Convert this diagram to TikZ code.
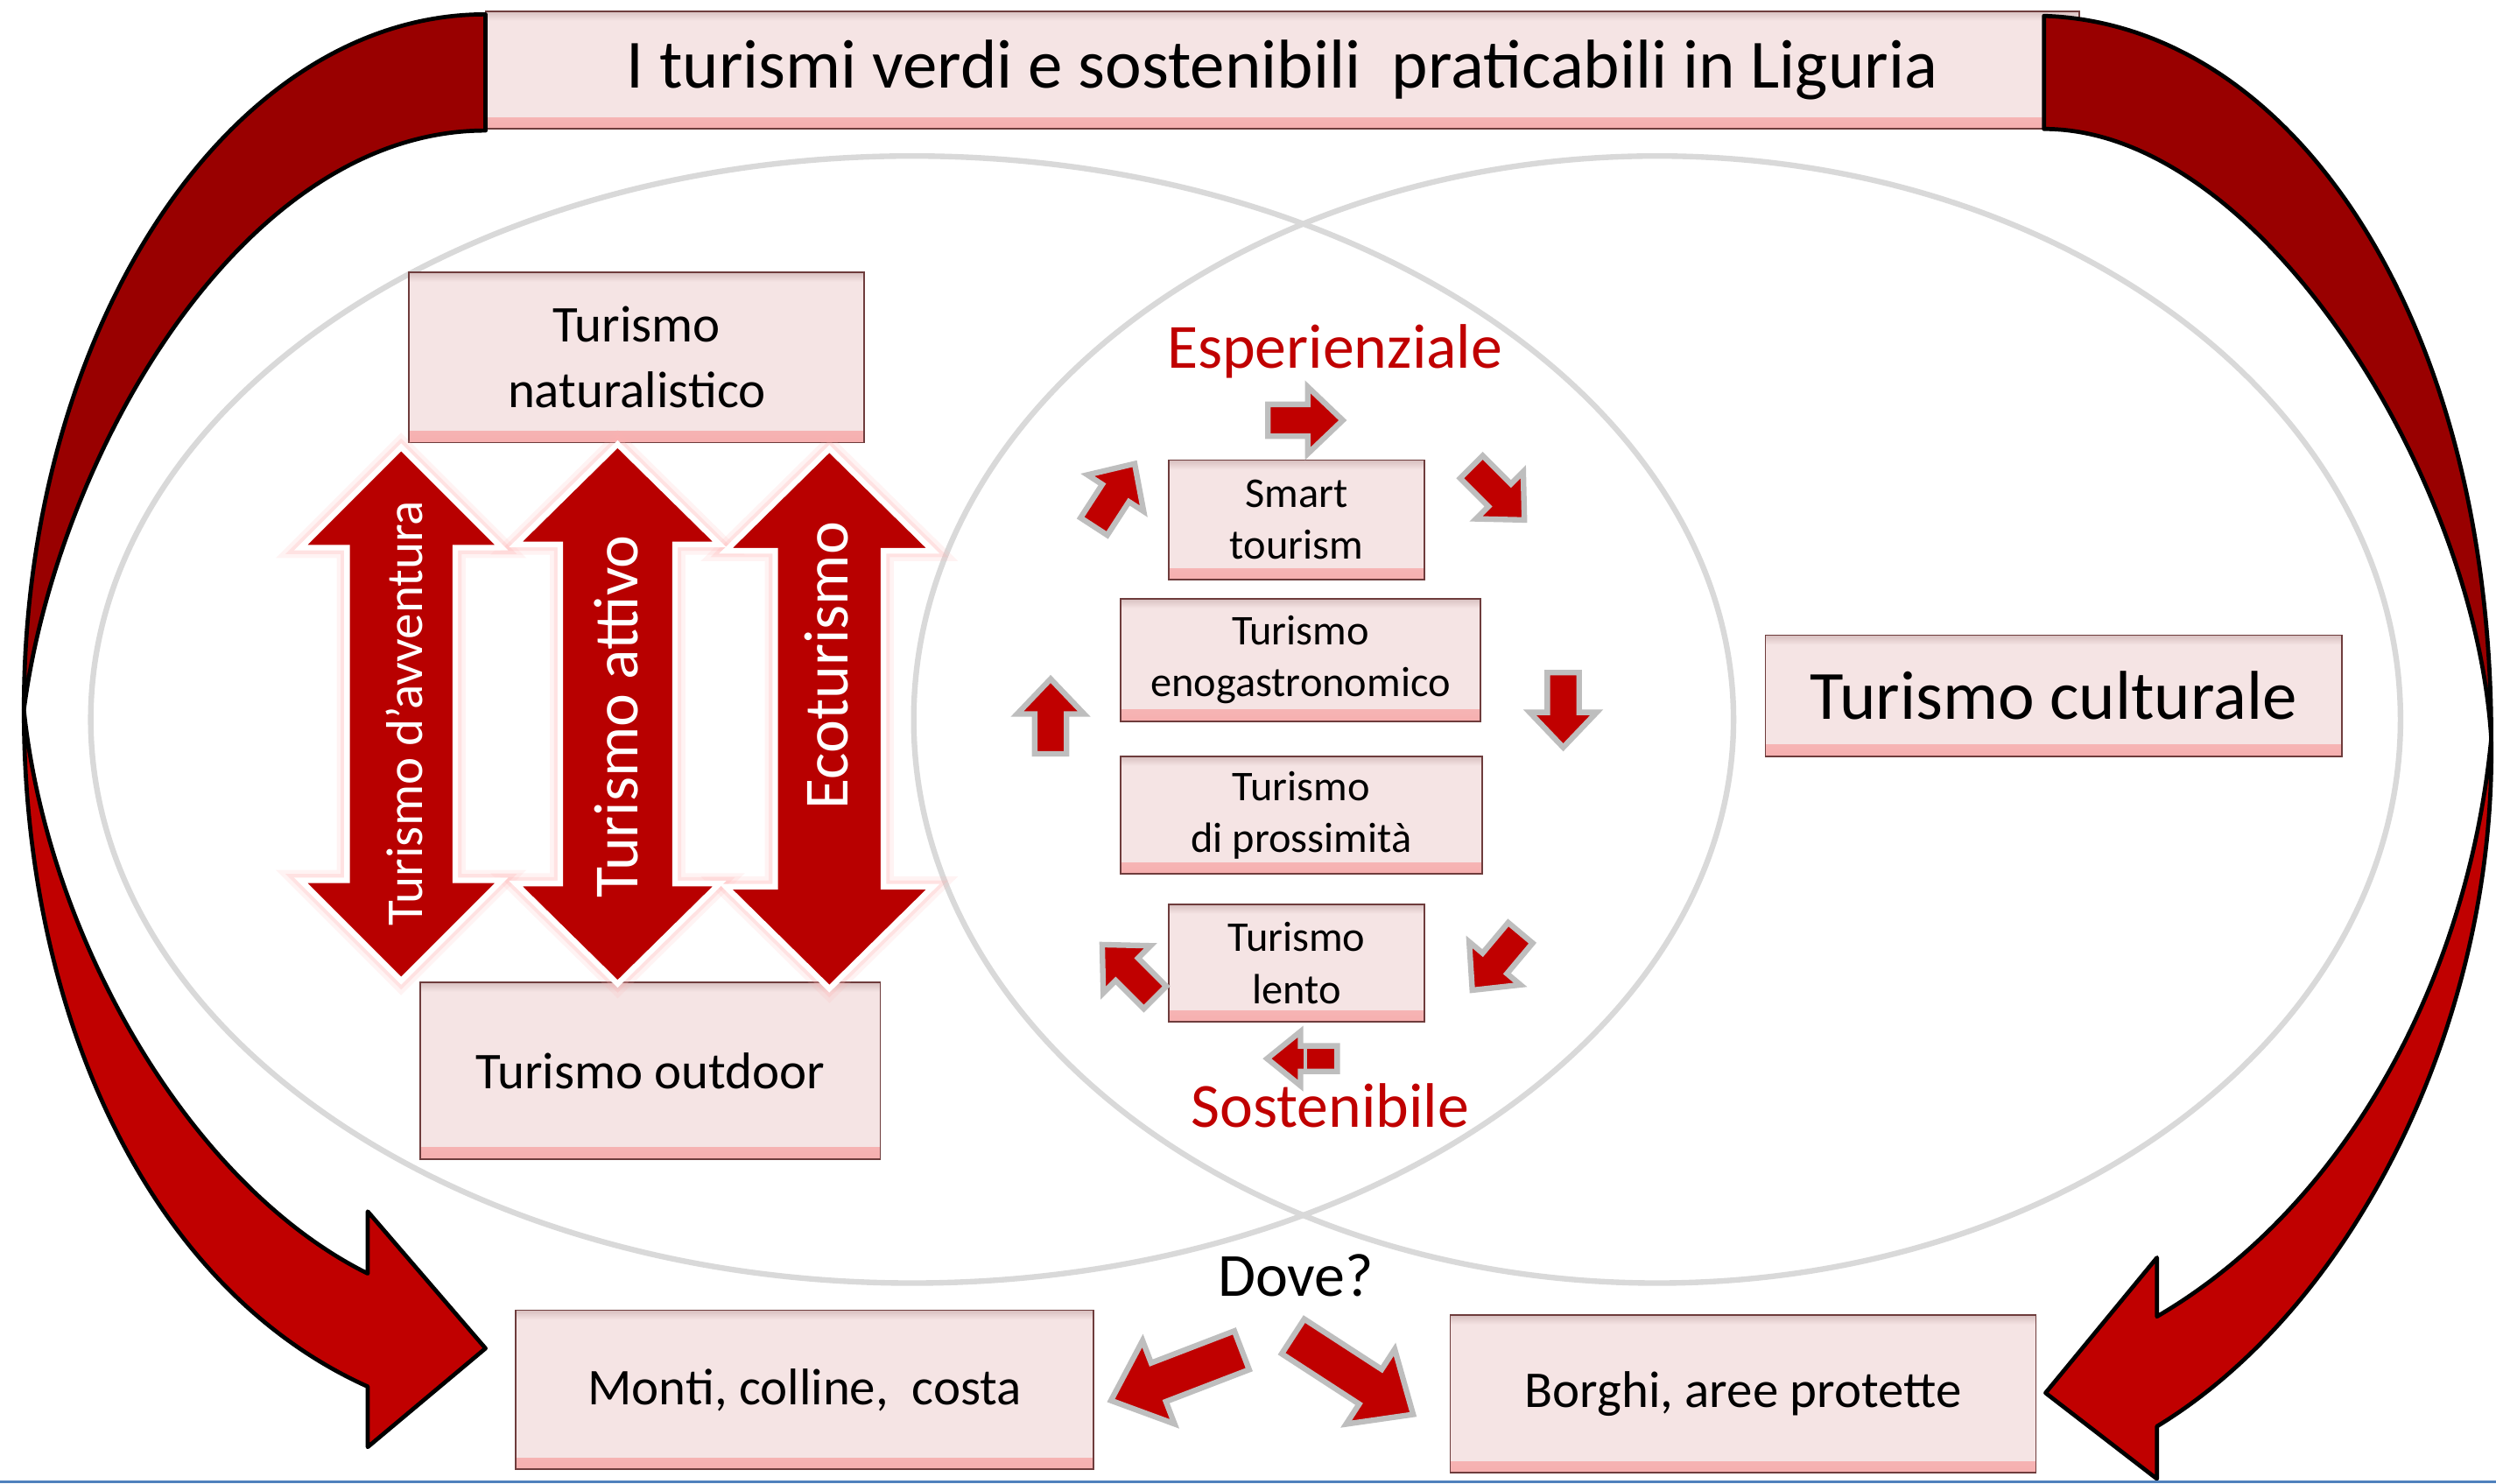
\documentclass[tikz,border=0pt]{standalone}
\usepackage{fontspec}
\setmainfont{Carlito}
\usetikzlibrary{calc}
\definecolor{boxfill}{RGB}{245,228,228}
\definecolor{boxline}{RGB}{110,60,60}
\definecolor{bevel}{RGB}{246,175,175}
\definecolor{darkred}{RGB}{153,0,0}
\definecolor{brightred}{RGB}{192,0,0}
\definecolor{arrred}{RGB}{184,0,0}
\definecolor{ringgray}{RGB}{217,217,217}
\definecolor{smallgray}{RGB}{190,190,190}
\definecolor{textred}{RGB}{192,0,0}
\definecolor{slideblue}{RGB}{79,129,189}
% style, x, y, angle, length, headlen, headhalf, shafthalf
\newcommand{\blockarrow}[8]{%
  \path[#1,shift={(#2,#3)},rotate=#4] ({-#5/2},{-#8}) -- ({#5/2-#6},{-#8}) -- ({#5/2-#6},{-#7}) -- ({#5/2},0) -- ({#5/2-#6},{#7}) -- ({#5/2-#6},{#8}) -- ({-#5/2},{#8}) -- cycle;}
% style, cx, ytop, ybot, headlen, headhalf, shafthalf
\newcommand{\dblarrow}[7]{%
  \path[#1] (#2,#3) -- ({#2+#6},{#3+#5}) -- ({#2+#7},{#3+#5}) -- ({#2+#7},{#4-#5}) -- ({#2+#6},{#4-#5}) -- (#2,#4) -- ({#2-#6},{#4-#5}) -- ({#2-#7},{#4-#5}) -- ({#2-#7},{#3+#5}) -- ({#2-#6},{#3+#5}) -- cycle;}
\tikzset{
  pinkbox/.style={draw=boxline, line width=1pt, fill=boxfill, inner sep=0pt, align=center,
    path picture={
      \shade[top color=boxfill, bottom color=bevel] ([yshift=7pt]path picture bounding box.south west) rectangle (path picture bounding box.south east);
      \shade[top color=boxfill!78!boxline, bottom color=boxfill] (path picture bounding box.north west) rectangle ([yshift=-6pt]path picture bounding box.north east);
    }},
  bigtxt/.style={font=\fontsize{43.4}{52}\selectfont},
  midtxt/.style={font=\fontsize{32.4}{41}\selectfont},
  smalltxt/.style={font=\fontsize{26.6}{32.5}\selectfont},
  ring/.style={draw=ringgray, line width=3.5pt},
  band/.style={draw=black, line width=2.6pt, line join=round},
  bigglowa/.style={draw=red!30, line width=13pt, opacity=0.15, line join=miter},
  bigglowb/.style={draw=red!30, line width=8pt, opacity=0.25, line join=miter},
  bigarr/.style={fill=arrred, draw=white, line width=3.5pt, line join=miter},
  smallarr/.style={fill=brightred, draw=smallgray, line width=3.5pt, line join=miter},
  redlabel/.style={text=textred, font=\fontsize{39.5}{46}\selectfont, anchor=base, inner sep=0pt},
  vtext/.style={text=white, rotate=90, inner sep=0pt},
}
\begin{document}
\begin{tikzpicture}[x=1pt,y=-1pt]
\useasboundingbox (0,0) rectangle (1568,932);
\fill[white] (0,0) rectangle (1568,932);

% rings
\draw[ring] (573,452) ellipse [x radius=516, y radius=354];
\draw[ring] (1041,452) ellipse [x radius=467, y radius=354];

% boxes
\node[pinkbox, bigtxt, minimum width=1001pt, minimum height=74pt] (title) at (805.5,44) {I turismi verdi e sostenibili\ \ praticabili in Liguria};
\node[pinkbox, midtxt, minimum width=286pt, minimum height=107pt] (natur) at (400,224.5) {Turismo\\naturalistico};
\node[pinkbox, midtxt, minimum width=289pt, minimum height=111pt] (outdoor) at (408.5,672.5) {Turismo outdoor};
\node[pinkbox, midtxt, minimum width=363pt, minimum height=100pt] (monti) at (505.5,873) {Monti, colline,\ \ costa};
\node[pinkbox, midtxt, minimum width=368pt, minimum height=99pt] (borghi) at (1095,875.5) {Borghi, aree protette};
\node[pinkbox, bigtxt, minimum width=362pt, minimum height=76pt] (cult) at (1290,437) {Turismo culturale};
\node[pinkbox, smalltxt, minimum width=161pt, minimum height=75pt] (smart) at (814.5,326.5) {Smart\\tourism};
\node[pinkbox, smalltxt, minimum width=226pt, minimum height=77pt] (eno) at (817,414.5) {Turismo\\enogastronomico};
\node[pinkbox, smalltxt, minimum width=227pt, minimum height=74pt] (pross) at (817.5,512) {Turismo\\di prossimità};
\node[pinkbox, smalltxt, minimum width=161pt, minimum height=74pt] (lento) at (814.5,605) {Turismo\\lento};

% vertical double arrows
\dblarrow{bigglowa}{252}{281}{616}{63}{63}{34}
\dblarrow{bigglowa}{388}{279}{618}{63}{64}{36}
\dblarrow{bigglowa}{521}{282}{621}{64}{65}{34}
\dblarrow{bigglowb}{252}{281}{616}{63}{63}{34}
\dblarrow{bigglowb}{388}{279}{618}{63}{64}{36}
\dblarrow{bigglowb}{521}{282}{621}{64}{65}{34}
\dblarrow{bigarr}{252}{281}{616}{63}{63}{34}
\dblarrow{bigarr}{388}{279}{618}{63}{64}{36}
\dblarrow{bigarr}{521}{282}{621}{64}{65}{34}
\node[vtext, font=\fontsize{32.5}{38}\selectfont] (avv) at (254,448) {Turismo d’avventura};
\node[vtext, font=\fontsize{39.5}{46}\selectfont] (att) at (387,450) {Turismo attivo};
\node[vtext, font=\fontsize{39.5}{46}\selectfont] (eco) at (519,418) {Ecoturismo};

% small cycle arrows
\blockarrow{smallarr}{820}{264}{0}{47}{22}{21}{10}
\blockarrow{smallarr}{941}{310}{-45}{47}{22}{21}{10}
\blockarrow{smallarr}{982}{446}{-90}{47}{22}{21}{10}
\blockarrow{smallarr}{940}{604}{-130}{47}{22}{21}{10}
\blockarrow{smallarr}{818}{665}{180}{44}{21}{17}{8}
\draw[smallgray, line width=2pt] (820,657) -- (820,673);
\blockarrow{smallarr}{709}{610}{135}{47}{22}{21}{10}
\blockarrow{smallarr}{660}{450}{90}{47}{22}{21}{10}
\blockarrow{smallarr}{700}{311}{57}{47}{22}{21}{10}

% labels
\node[redlabel] (esp) at (838.5,231) {Esperienziale};
\node[redlabel] (sost) at (835.5,708) {Sostenibile};
\node[font=\fontsize{38.5}{46}\selectfont, anchor=base, inner sep=0pt] (dove) at (814,814) {Dove?};

% Dove arrows
\blockarrow{smallarr}{739}{864}{201}{88}{32}{28}{13}
\blockarrow{smallarr}{850}{864}{-33}{90}{32}{28}{13}

% big curved arrows
\path[band, fill=darkred] (305,9) .. controls (145,9) and (15,205) .. (15,446) .. controls (35,290) and (150,82) .. (305,82) -- cycle;
\path[band, fill=brightred] (15,446) .. controls (15,640) and (95,810) .. (231,871) -- (231,909) -- (305,847) -- (231,761) -- (231,800) .. controls (120,745) and (30,590) .. (15,446) -- cycle;
\path[band, fill=darkred] (1284,10) .. controls (1440,15) and (1565,200) .. (1565,464) .. controls (1555,300) and (1420,81) .. (1284,81) -- cycle;
\path[band, fill=brightred] (1565,464) .. controls (1568,640) and (1480,820) .. (1355,896) -- (1355,929) -- (1285,875) -- (1355,790) -- (1355,827) .. controls (1470,760) and (1550,620) .. (1565,464) -- cycle;

% slide edge
\draw[slideblue, line width=1.5pt] (0,930.8) -- (1568,930.8);
\end{tikzpicture}
\end{document}
